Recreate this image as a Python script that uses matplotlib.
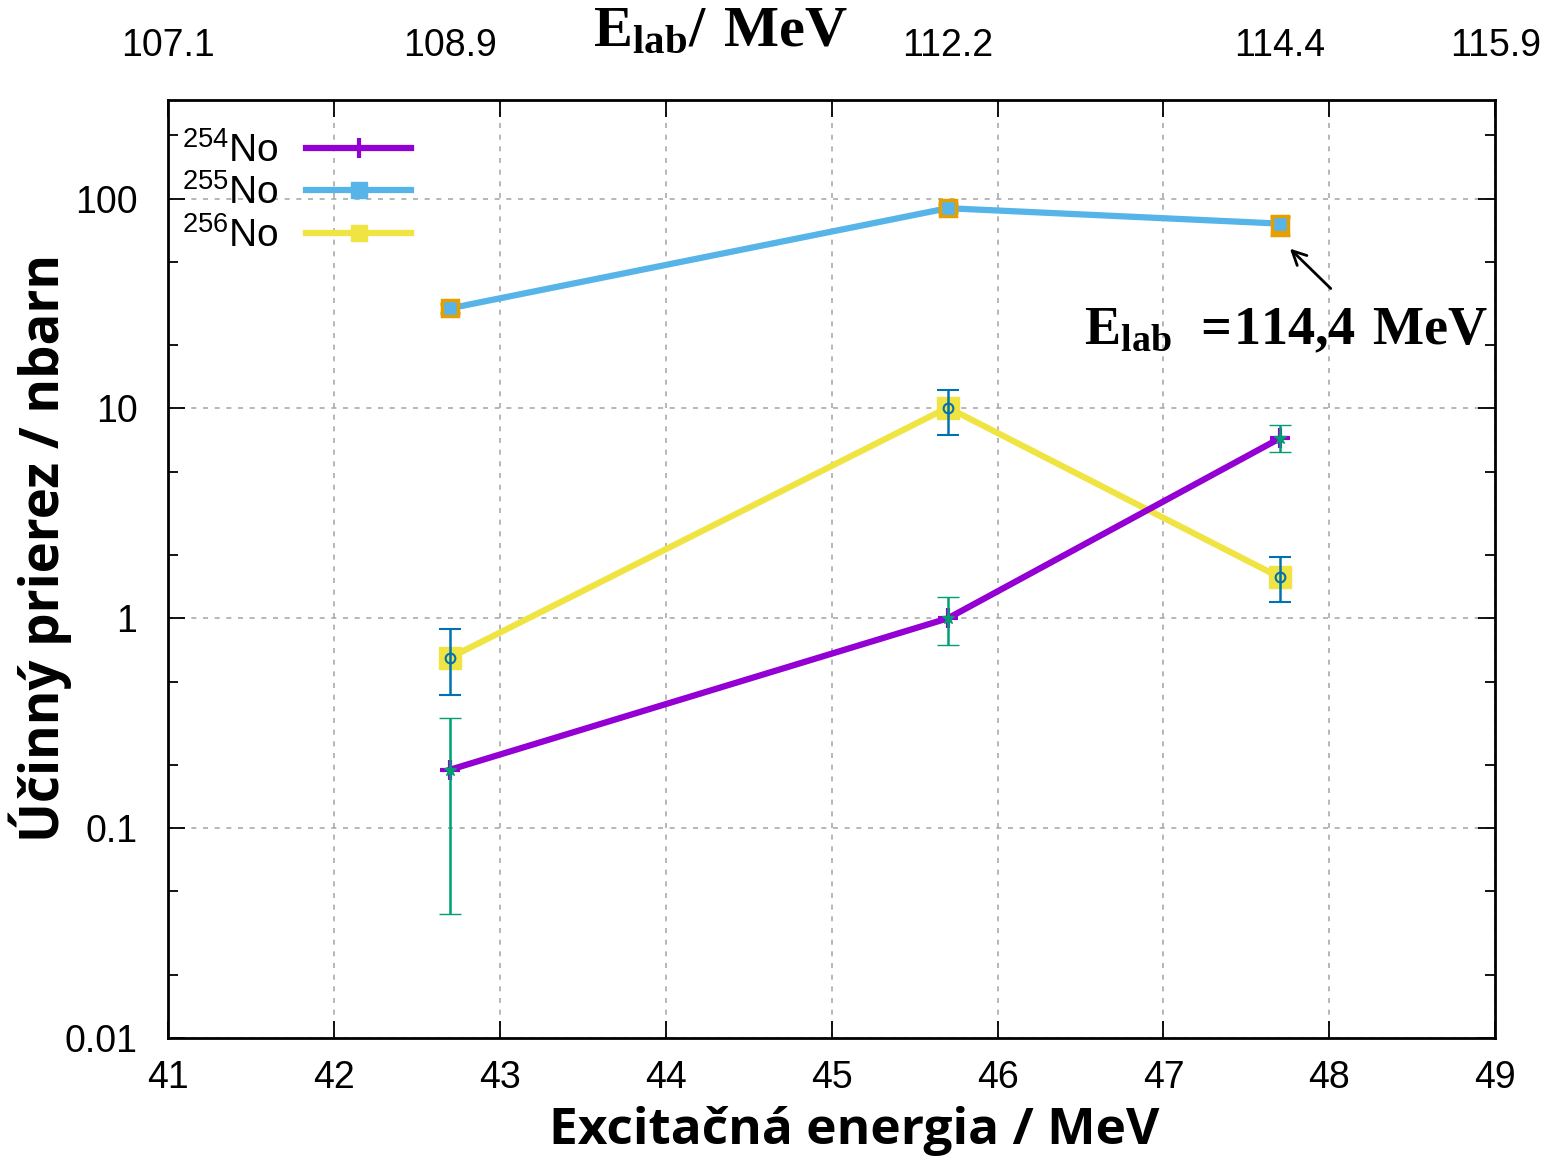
import numpy as np
import matplotlib
matplotlib.use('Agg')
import matplotlib.pyplot as plt
from matplotlib.lines import Line2D
from matplotlib.ticker import FixedLocator, NullFormatter

plt.rcParams['font.family'] = ['Liberation Sans Narrow', 'Liberation Sans', 'DejaVu Sans']
plt.rcParams['mathtext.fontset'] = 'custom'
plt.rcParams['mathtext.rm'] = 'Liberation Sans'
plt.rcParams['mathtext.bf'] = 'Liberation Serif:bold'

# excitation energy (MeV) and matching beam energies
E_EXC = [42.7, 45.7, 47.7]
TOP_POS = [41, 42.7, 45.7, 47.7, 49]
TOP_LAB = ['107.1', '108.9', '112.2', '114.4', '115.9']

# cross sections / nbarn with asymmetric errors
NO254 = [0.19, 1.0, 7.2]
NO254_LO = [0.039, 0.75, 6.2]
NO254_HI = [0.334, 1.26, 8.3]

NO255 = [30.0, 90.0, 76.0]
NO255_LO = [28.5, 86.0, 67.0]
NO255_HI = [31.5, 94.0, 82.0]

NO256 = [0.65, 10.1, 1.57]
NO256_LO = [0.43, 7.5, 1.2]
NO256_HI = [0.89, 12.2, 1.95]

PURPLE = '#9400d3'
BLUE = '#56b4e9'
YELLOW = '#f0e442'
GREEN = '#009e73'
DBLUE = '#0072b2'
ORANGE = '#e69f00'

fig = plt.figure(figsize=(15.56, 11.56), dpi=100)
ax = fig.add_axes([0.108, 0.102, 0.853, 0.8115])


def errs(v, lo, hi):
    v = np.array(v); lo = np.array(lo); hi = np.array(hi)
    return [v - lo, hi - v]


# lines first
ax.plot(E_EXC, NO255, color=BLUE, lw=4.5, zorder=3)
ax.plot(E_EXC, NO256, color=YELLOW, lw=4.5, zorder=3)
ax.plot(E_EXC, NO254, color=PURPLE, lw=4.5, zorder=3)

# 255No points
ax.errorbar(E_EXC, NO255, yerr=errs(NO255, NO255_LO, NO255_HI), fmt='s', ms=12,
            mfc=BLUE, mec=ORANGE, mew=2.5, ecolor=ORANGE, elinewidth=1.5, capsize=7, zorder=4)
# 256No points
ax.plot(E_EXC, NO256, 's', ms=16, color=YELLOW, zorder=4)
ax.errorbar(E_EXC, NO256, yerr=errs(NO256, NO256_LO, NO256_HI), fmt='o', ms=7,
            mfc='none', mec=DBLUE, mew=1.5, ecolor=DBLUE, elinewidth=1.8, capsize=8, zorder=5)
# 254No points
ax.plot(E_EXC, NO254, '+', ms=14, mew=3, color=PURPLE, zorder=4)
ax.errorbar(E_EXC, NO254, yerr=errs(NO254, NO254_LO, NO254_HI), fmt='*', ms=9,
            color=GREEN, elinewidth=1.8, capsize=8, zorder=5)

ax.set_yscale('log')
ax.set_xlim(41, 49)
ax.set_ylim(0.01, 295)
ax.set_xticks(range(41, 50))
ax.set_yticks([0.01, 0.1, 1, 10, 100])
ax.set_yticklabels(['0.01', '0.1', '1', '10', '100'])
minors = [m * 10.0 ** k for k in range(-2, 3) for m in (2, 5)]
ax.yaxis.set_minor_locator(FixedLocator(minors))
ax.yaxis.set_minor_formatter(NullFormatter())
ax.tick_params(which='major', direction='in', length=12, width=1.3, labelsize=27,
               top=True, right=True, pad=22)
ax.tick_params(which='minor', direction='in', length=7, width=1.3, left=True, right=True)
ax.tick_params(axis='x', pad=16)
ax.grid(True, which='major', color='#aaaaaa', ls=(0, (3, 4)), lw=1.2)
for s in ax.spines.values():
    s.set_linewidth(2)

# top axis with beam energy
top = ax.secondary_xaxis('top')
top.set_xticks(TOP_POS)
top.set_xticklabels(TOP_LAB)
top.tick_params(length=0, labelsize=27, pad=26)

# legend
handles = [Line2D([], [], color=PURPLE, lw=4.5, marker='+', ms=14, mew=3),
           Line2D([], [], color=BLUE, lw=4.5, marker='s', ms=12),
           Line2D([], [], color=YELLOW, lw=4.5, marker='s', ms=12)]
labels = [r'$^{\mathregular{254}}$No', r'$^{\mathregular{255}}$No', r'$^{\mathregular{256}}$No']
leg = ax.legend(handles, labels, loc='upper left', bbox_to_anchor=(-0.007, 0.991),
                frameon=False, markerfirst=False,
                handlelength=2.7, labelspacing=0.12, borderaxespad=0.3, borderpad=0.3,
                handletextpad=0.7,
                prop={'family': ['Liberation Sans', 'DejaVu Sans'], 'size': 28})

# annotation
ax.annotate('', xy=(47.75, 59), xytext=(48.02, 36.5),
            arrowprops=dict(arrowstyle='->', lw=2, color='black', mutation_scale=25))
ax.text(47.74, 23.5, r'$\mathbf{E_{lab}\ =\!114{,}4\ MeV}$', ha='center', va='center', fontsize=39)

fig.text(0.463, 0.973, r'$\mathbf{E_{lab}/\ MeV}$', ha='center', va='center', fontsize=42)
fig.text(0.549, 0.022, 'Excitačná energia / MeV', ha='center', va='center', fontsize=37,
         fontweight='bold', family=['Open Sans', 'DejaVu Sans'])
fig.text(0.026, 0.526, 'Účinný prierez / nbarn', ha='center', va='center', fontsize=38,
         fontweight='bold', rotation=90, family=['Open Sans', 'DejaVu Sans'])

fig.savefig('out.png', dpi=100)
